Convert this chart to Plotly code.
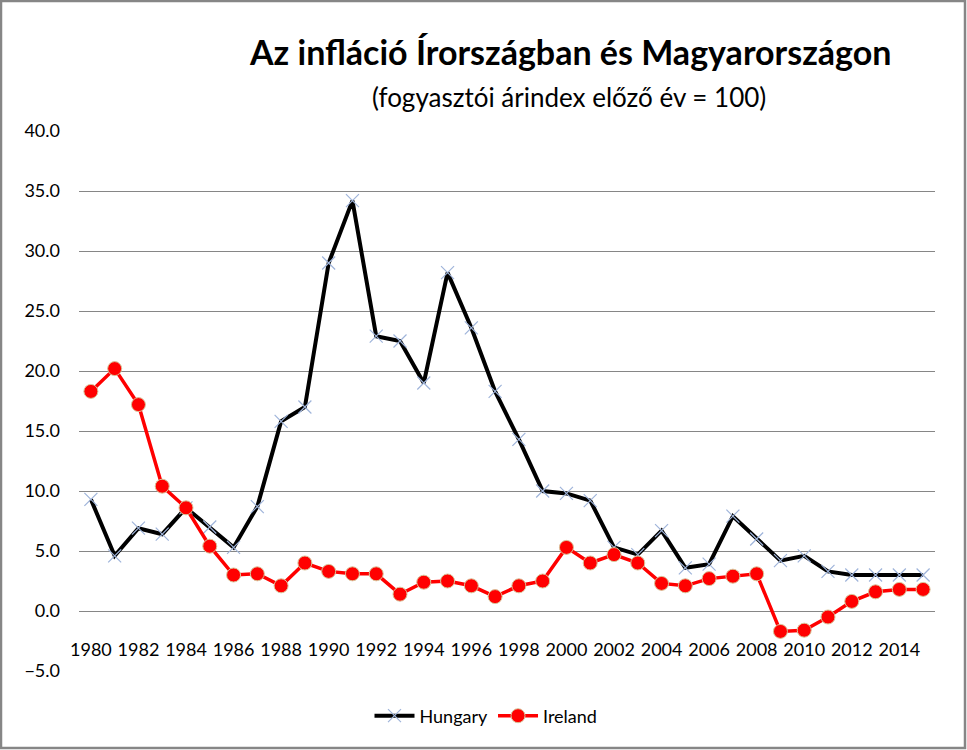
import plotly.graph_objects as go

years = list(range(1980, 2016))

hungary = [9.3, 4.6, 6.9, 6.4, 8.6, 7.0, 5.3, 8.7, 15.8, 17.0,
           29.0, 34.2, 22.9, 22.5, 19.0, 28.2, 23.6, 18.3, 14.3, 10.0,
           9.8, 9.2, 5.3, 4.7, 6.7, 3.6, 3.9, 7.9, 6.0, 4.2,
           4.6, 3.3, 3.0, 3.0, 3.0, 3.0]

ireland = [18.3, 20.2, 17.2, 10.4, 8.6, 5.4, 3.0, 3.1, 2.1, 4.0,
           3.3, 3.1, 3.1, 1.4, 2.4, 2.5, 2.1, 1.2, 2.1, 2.5,
           5.3, 4.0, 4.7, 4.0, 2.3, 2.1, 2.7, 2.9, 3.1, -1.7,
           -1.6, -0.5, 0.8, 1.6, 1.8, 1.8]

title_text = "Az infláció Írországban és Magyarországon"
subtitle_text = "(fogyasztói árindex előző év = 100)"

W, H = 967, 750
ml, mr, mt, mb = 79, 32, 131, 79
pw, ph = W - ml - mr, H - mt - mb


def px(x):
    return (x - ml) / pw


def py(y):
    return (H - mb - y) / ph


fnt = "Lato, 'DejaVu Sans', sans-serif"

fig = go.Figure()

fig.add_trace(go.Scatter(
    x=years, y=hungary, name="Hungary", mode="lines+markers",
    line=dict(color="black", width=4),
    marker=dict(symbol="x-thin", size=13, color="#9fb4da",
                line=dict(width=1.2, color="#9fb4da"))
))

fig.add_trace(go.Scatter(
    x=years, y=ireland, name="Ireland", mode="lines+markers",
    line=dict(color="#ff0000", width=3.5),
    marker=dict(symbol="circle", size=14, color="#ff0000",
                line=dict(width=1, color="#d8c49a"))
))

fig.update_layout(
    width=W, height=H,
    margin=dict(l=ml, r=mr, t=mt, b=mb),
    paper_bgcolor="white", plot_bgcolor="white",
    font=dict(family=fnt, size=18, color="black"),
    showlegend=True,
    legend=dict(orientation="h", x=px(486), xanchor="center",
                y=py(716), yanchor="middle", font=dict(size=18),
                itemwidth=40, tracegroupgap=0),
    annotations=[
        dict(text="<b>" + title_text + "</b>", x=px(570), y=py(52),
             xref="paper", yref="paper", showarrow=False,
             xanchor="center", yanchor="middle",
             font=dict(size=34, family=fnt)),
        dict(text=subtitle_text, x=px(569), y=py(97),
             xref="paper", yref="paper", showarrow=False,
             xanchor="center", yanchor="middle",
             font=dict(size=26, family=fnt)),
    ],
    shapes=[
        dict(type="rect", xref="paper", yref="paper",
             x0=px(1), x1=px(965), y0=py(748), y1=py(1),
             line=dict(color="#868686", width=2.5))
    ],
)

fig.update_yaxes(
    range=[-5, 40], dtick=5, tick0=0, tickformat=".1f",
    showgrid=True, gridcolor="#868686", gridwidth=1,
    zeroline=True, zerolinecolor="#868686", zerolinewidth=1,
    showline=False, ticks="", ticklabelstandoff=18
)

fig.update_xaxes(
    range=[1979.5, 2015.5], tick0=1980, dtick=2,
    showgrid=False, zeroline=False, showline=False, ticks="",
    anchor="free", position=5 / 45, ticklabelstandoff=26
)

# page body has a default margin; drop it so the chart sits at 0,0
fig.write_html("out.html", config={"displayModeBar": False},
               post_script="document.body.style.margin='0';")
